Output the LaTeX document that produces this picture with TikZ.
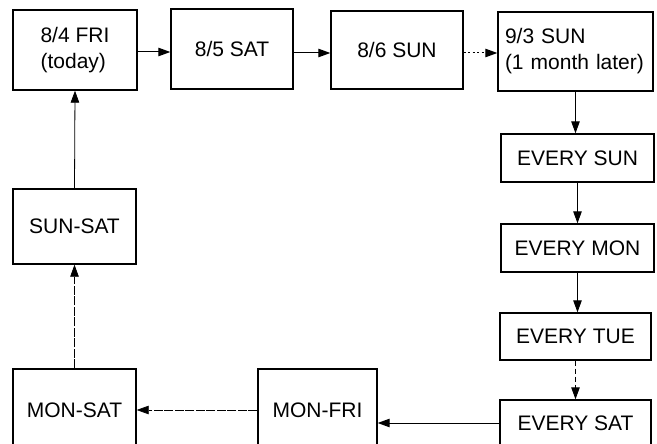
\documentclass[tikz,border=0pt]{standalone}
\usepackage{fontspec}
\setmainfont{Liberation Sans}
\usetikzlibrary{arrows.meta}
\tikzset{
  box/.style={draw, line width=1.4pt, rectangle, inner sep=0pt, align=left,
    font=\fontsize{21}{26}\selectfont},
  arr/.style={line width=1pt, -{Triangle[length=12pt,width=8.5pt]}},
  dotarr/.style={arr, dash pattern=on 2pt off 2.5pt},
  dasharr/.style={arr, dash pattern=on 5pt off 3pt},
  thinarr/.style={arr, line width=0.7pt, dash pattern=on 9pt off 1.5pt},
}
\begin{document}
\begin{tikzpicture}[x=1pt,y=-1pt]
\useasboundingbox (0,0) rectangle (657,444);
\clip (0,0) rectangle (657,444);
\fill[white] (0,0) rectangle (657,444);
\node[box, minimum width=124pt, minimum height=80pt] (A) at (75,50) {8/4 FRI\\(today)};
\node[box, minimum width=122pt, minimum height=80pt] (B) at (232,49) {8/5 SAT};
\node[box, minimum width=132pt, minimum height=78pt] (C) at (397,50) {8/6 SUN};
\node[box, minimum width=155pt, minimum height=79pt, text width=141pt, inner xsep=7pt] (D) at (575.5,51.5) {9/3 SUN\\(1 month later)};
\node[box, minimum width=153pt, minimum height=48pt] (E) at (577.5,158) {EVERY SUN};
\node[box, minimum width=153pt, minimum height=48pt] (F) at (577.5,248) {EVERY MON};
\node[box, minimum width=151pt, minimum height=47pt] (G) at (575.5,336.5) {EVERY TUE};
\node[box, minimum width=151pt, minimum height=46pt] (H) at (575.5,423) {EVERY SAT};
\node[box, minimum width=119pt, minimum height=82pt] (MF) at (317.5,410) {MON-FRI};
\node[box, minimum width=123pt, minimum height=82pt] (MS) at (74.5,410) {MON-SAT};
\node[box, minimum width=123pt, minimum height=75pt] (SS) at (74.5,226.5) {SUN-SAT};

\draw[arr] ([yshift=-3pt]A.east |- B.east) -- ([yshift=-3pt]B.west);
\draw[arr] ([yshift=-4pt]B.east) -- ([yshift=-4pt]B.east -| C.west);
\draw[dotarr] ([yshift=-3pt]C.east) -- ([yshift=-3pt]C.east -| D.west);
\draw[arr] (D.south) -- (D.south |- E.north);
\draw[arr] (E.south) -- (E.south |- F.north);
\draw[arr] (F.south) -- (F.south |- G.north);
\draw[dasharr] (G.south) -- (G.south |- H.north);
\draw[arr] (H.west) -- (H.west -| MF.east);
\draw[thinarr] (MF.west) -- (MS.east);
\draw[thinarr] (MS.north) -- (SS.south);
\draw[arr, line width=0.8pt] (SS.north) -- (A.south);
\end{tikzpicture}
\end{document}
